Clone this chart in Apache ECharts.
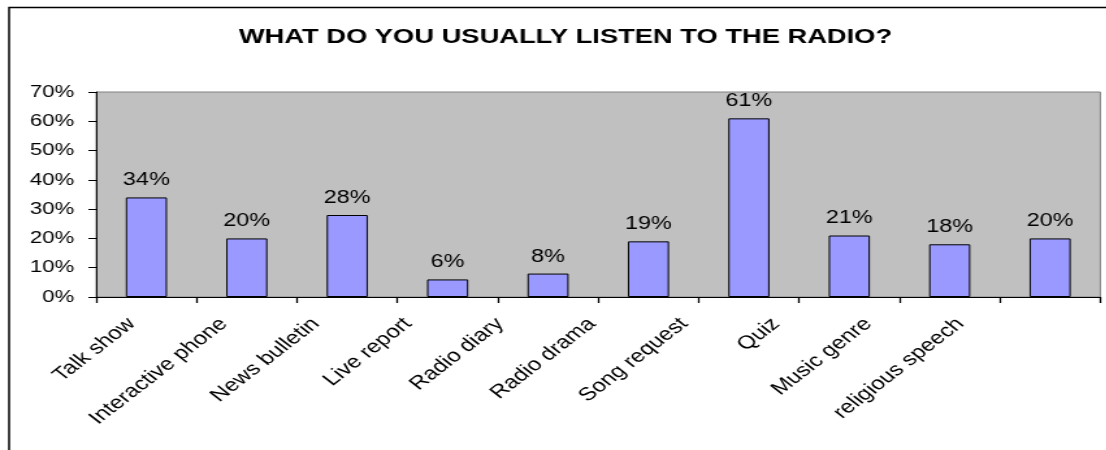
<!DOCTYPE html>
<html>
<head>
<meta charset="utf-8">
<script src="https://cdn.jsdelivr.net/npm/echarts@6/dist/echarts.min.js"></script>
<style>
html,body{margin:0;padding:0;background:#fff;overflow:hidden;width:1106px;height:450px}
#c{width:851px;height:450px;transform:scaleX(1.3);transform-origin:0 0}
</style>
</head>
<body>
<div id="c"></div>
<script>
const categories = ["Talk show","Interactive phone","News bulletin","Live report","Radio diary","Radio drama","Song request","Quiz","Music genre","religious speech"];
const values = [34, 20, 28, 6, 8, 19, 61, 21, 18, 20];
const yTicks = [0, 10, 20, 30, 40, 50, 60, 70];

const chart = echarts.init(document.getElementById('c'), null, {renderer: 'canvas'});
const font = 'Liberation Sans, Arial, sans-serif';
chart.setOption({
  animation: false,
  backgroundColor: '#fff',
  graphic: [{
    type: 'rect', left: 4.5, top: 5, z: 100, silent: true,
    shape: {width: 900, height: 470},
    style: {fill: 'none', stroke: '#000', lineWidth: 1.5}
  }],
  title: {
    text: 'WHAT DO YOU USUALLY LISTEN TO THE RADIO?',
    left: 430, top: 22, textAlign: 'center',
    textStyle: {fontFamily: font, fontWeight: 'bold', fontSize: 21, color: '#000'}
  },
  grid: [
    {left: 74, right: 4.6, top: 92, bottom: 153, backgroundColor: '#C0C0C0', show: true, borderColor: '#808080', borderWidth: 1},
    {left: 66, right: 77, top: 92, bottom: 153, show: false}
  ],
  xAxis: [{
    type: 'category', data: categories, gridIndex: 0,
    axisLine: {lineStyle: {color: '#000', width: 1}},
    axisTick: {show: true, interval: 0, length: 6, lineStyle: {color: '#000', width: 1.3}},
    axisLabel: {show: false, interval: 0},
    splitLine: {show: false}
  }, {
    type: 'category', data: categories, gridIndex: 1,
    axisLine: {show: false}, axisTick: {show: false}, splitLine: {show: false},
    axisLabel: {rotate: 45, fontFamily: font, fontSize: 18.5, color: '#000', margin: 24, interval: 0}
  }],
  yAxis: [{
    type: 'value', min: 0, max: 70, interval: 10, gridIndex: 0,
    axisLine: {show: true, lineStyle: {color: '#000', width: 1}},
    axisTick: {show: true, length: 6, lineStyle: {color: '#000'}},
    axisLabel: {formatter: v => yTicks.includes(v) ? v + '%' : '', fontFamily: font, fontSize: 17, color: '#000', margin: 17},
    splitLine: {show: false}
  }, {
    type: 'value', min: 0, max: 70, gridIndex: 1, show: false
  }],
  series: [{
    type: 'bar', data: values, barWidth: '41%', xAxisIndex: 0, yAxisIndex: 0,
    itemStyle: {color: '#9999FF', borderColor: '#000', borderWidth: 1},
    label: {show: true, position: 'top', formatter: p => p.value + '%', fontFamily: font, fontSize: 18, color: '#000', distance: 8}
  }]
});
</script>
</body>
</html>
